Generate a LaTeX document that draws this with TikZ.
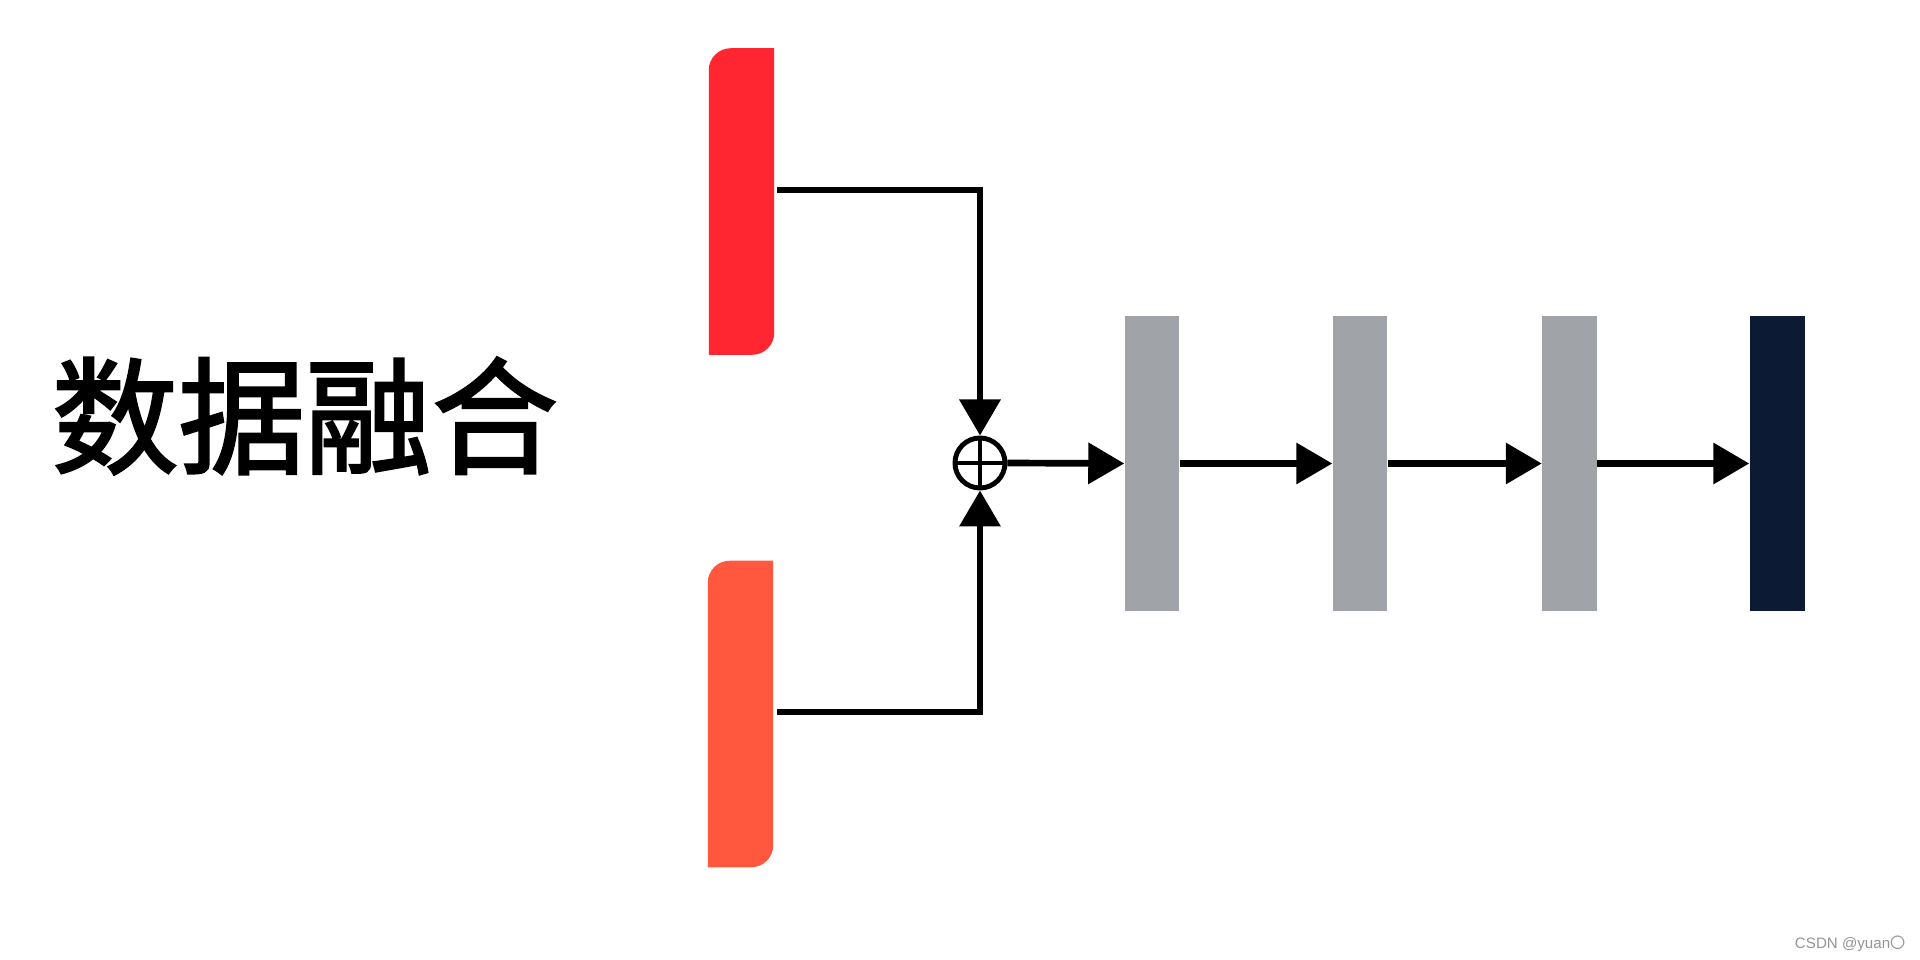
\documentclass[tikz,border=0pt]{standalone}
\usepackage{fontspec}
\setsansfont{Liberation Sans}
\newfontfamily\cjkfont{Noto Sans CJK SC}
\newfontfamily\cjkheavy{Noto Sans CJK SC}[FakeBold=2]
\usepackage{tikz}
\usetikzlibrary{arrows.meta,positioning,calc}
\definecolor{fusionred}{RGB}{255,38,50}
\definecolor{fusionorange}{RGB}{255,88,62}
\definecolor{layergray}{RGB}{160,163,167}
\definecolor{outnavy}{RGB}{12,26,52}
\tikzset{
  inputbar/.style={minimum width=0.64cm,minimum height=3.05cm,inner sep=0pt},
  layerbar/.style={fill=layergray,minimum width=0.54cm,minimum height=2.95cm,inner sep=0pt},
  wire/.style={line width=1.9pt,draw=black},
  flowarrow/.style={wire,-{Triangle[length=3.6mm,width=4mm]}},
  sumnode/.style={circle,draw=black,line width=1.4pt,minimum size=0.5cm,inner sep=0pt},
  titlelabel/.style={font=\cjkheavy\fontsize{36}{40}\selectfont,inner sep=0pt},
  marklabel/.style={font=\sffamily\fontsize{4.3}{5}\selectfont,text=black!42,inner sep=0pt}
}

\begin{document}
\begin{tikzpicture}[x=0.01cm,y=0.01cm]
  \useasboundingbox (0,0) rectangle (1920,960);
  \node[titlelabel] (title) at (305,544) {数据融合};

  \node[inputbar] (redtop) at (741.5,758.5) {};
  \node[inputbar] (redbottom) at (740.5,246) {};
  \fill[fusionred] (redtop.south west) -- ([yshift=-0.22cm]redtop.north west)
    arc[start angle=180,end angle=90,radius=0.22cm] -- (redtop.north east)
    -- ([yshift=0.22cm]redtop.south east) arc[start angle=0,end angle=-90,radius=0.22cm] -- cycle;
  \fill[fusionorange] (redbottom.south west) -- ([yshift=-0.22cm]redbottom.north west)
    arc[start angle=180,end angle=90,radius=0.22cm] -- (redbottom.north east)
    -- ([yshift=0.22cm]redbottom.south east) arc[start angle=0,end angle=-90,radius=0.22cm] -- cycle;

  \node[sumnode] (sum) at (980,497) {};
  \draw[line width=1.4pt] (sum.north)--(sum.south) (sum.west)--(sum.east);

  \node[layerbar] (hidden1) at (1152,496.5) {};
  \node[layerbar] (hidden2) at (1360,496.5) {};
  \node[layerbar] (hidden3) at (1569.5,496.5) {};
  \node[layerbar,fill=outnavy,minimum width=0.55cm] (output) at (1777.5,496.5) {};

  \draw[flowarrow] ([xshift=0.03cm,yshift=0.115cm]redtop.east) -| (sum.north);
  \draw[flowarrow] ([xshift=0.04cm,yshift=0.02cm]redbottom.east) -| (sum.south);
  \draw[flowarrow] (sum.east) -- (hidden1.west);
  \draw[flowarrow] (hidden1.east) -- (hidden2.west);
  \draw[flowarrow] (hidden2.east) -- (hidden3.west);
  \draw[flowarrow] (hidden3.east) -- (output.west);

  \node[marklabel,anchor=east] (mark) at (1906,16) {CSDN @yuan{\cjkfont 〇}};
\end{tikzpicture}
\end{document}
